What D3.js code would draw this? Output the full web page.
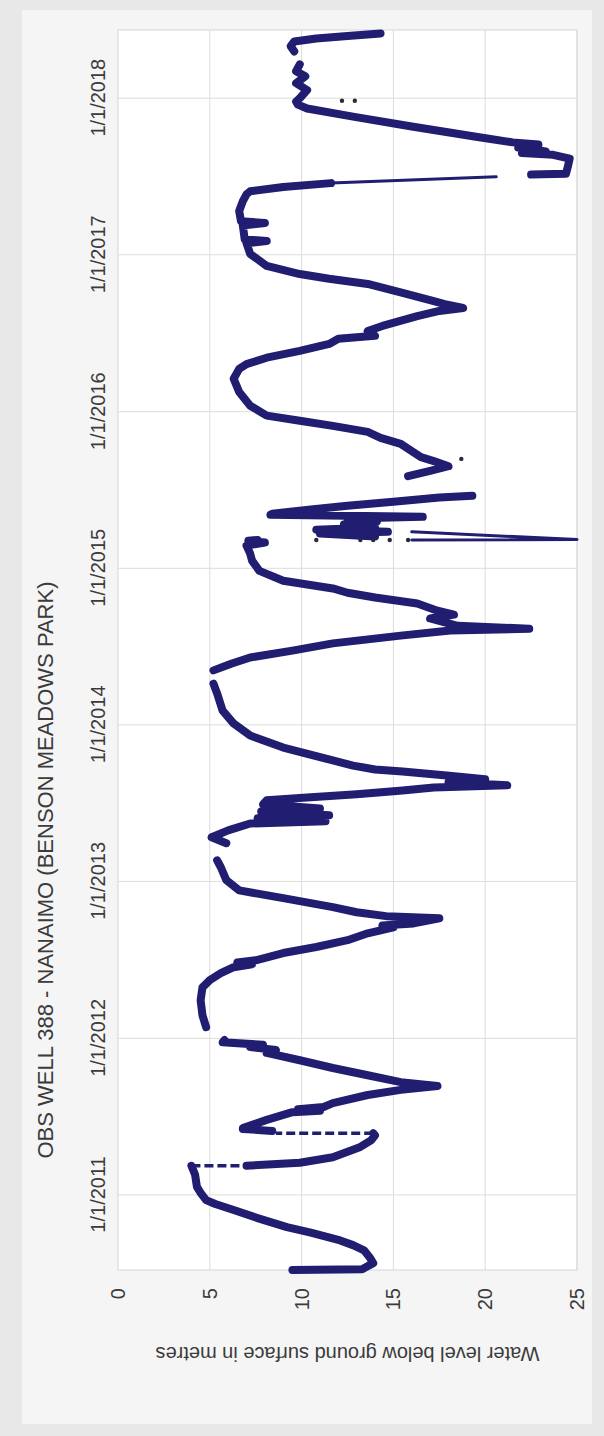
<!DOCTYPE html>
<html>
<head>
<meta charset="utf-8">
<script src="https://cdn.jsdelivr.net/npm/d3@7"></script>
<style>
  html, body { margin: 0; padding: 0; background: #e9e9e9; }
  svg { display: block; }
</style>
</head>
<body>
<svg id="chart" width="604" height="1436"></svg>
<script>
// ---- Text ----
const chartTitle = "OBS WELL 388 - NANAIMO (BENSON MEADOWS PARK)";
const depthAxisTitle = "Water level below ground surface in metres";

// ---- Axes ----
const dateRange = ["2010-07-10", "2018-06-09"];
const dateTicks = ["2011-01-01", "2012-01-01", "2013-01-01", "2014-01-01",
                   "2015-01-01", "2016-01-01", "2017-01-01", "2018-01-01"];
const depthRange = [0, 25];
const depthTicks = [0, 5, 10, 15, 20, 25];

// ---- Logger record: [date, metres below ground], split where the record breaks ----
const run2010 = [
  ["2010-07-10", 9.5], ["2010-07-12", 13.3], ["2010-07-26", 13.9], ["2010-08-09", 13.7],
  ["2010-08-25", 13.4], ["2010-09-06", 12.8], ["2010-09-17", 12.1], ["2010-10-05", 10.5],
  ["2010-10-18", 9.2], ["2010-11-08", 7.6], ["2010-11-27", 6.3], ["2010-12-11", 5.3],
  ["2010-12-20", 4.8], ["2011-01-06", 4.5], ["2011-01-20", 4.3], ["2011-02-17", 4.2],
  ["2011-03-10", 4.0]
];
const run2011a = [
  ["2011-03-10", 7.0], ["2011-03-17", 9.9], ["2011-03-30", 11.7], ["2011-04-23", 13.2],
  ["2011-05-09", 13.8], ["2011-05-20", 14.0], ["2011-05-25", 13.9]
];
const run2011b = [
  ["2011-05-30", 8.4], ["2011-06-04", 6.8], ["2011-06-06", 6.8], ["2011-06-25", 8.1],
  ["2011-07-13", 9.5], ["2011-07-16", 11.0], ["2011-07-20", 9.8], ["2011-07-25", 11.2],
  ["2011-08-03", 11.7], ["2011-08-22", 13.6], ["2011-09-03", 15.4], ["2011-09-12", 17.4],
  ["2011-09-21", 15.4], ["2011-10-07", 13.6], ["2011-10-24", 11.7], ["2011-11-11", 9.9],
  ["2011-11-28", 8.1], ["2011-12-05", 8.6], ["2011-12-12", 7.2], ["2011-12-17", 7.9],
  ["2011-12-23", 5.7], ["2011-12-28", 5.8]
];
const run2012 = [
  ["2012-01-27", 4.8], ["2012-02-24", 4.6], ["2012-03-30", 4.5], ["2012-04-29", 4.6],
  ["2012-05-16", 5.0], ["2012-06-01", 5.6], ["2012-06-15", 6.3], ["2012-06-22", 7.3],
  ["2012-06-26", 6.5], ["2012-07-01", 7.5], ["2012-07-18", 9.0], ["2012-08-01", 10.8],
  ["2012-08-17", 12.5], ["2012-09-02", 13.6], ["2012-09-16", 15.0], ["2012-09-20", 14.4],
  ["2012-09-25", 16.1], ["2012-10-07", 17.5], ["2012-10-12", 14.6], ["2012-10-21", 13.0],
  ["2012-11-02", 11.7], ["2012-11-23", 9.0], ["2012-12-11", 6.6], ["2013-01-04", 5.9],
  ["2013-02-03", 5.6], ["2013-02-19", 5.4]
];
const run2013 = [
  ["2013-03-31", 5.9], ["2013-04-14", 5.1], ["2013-04-30", 6.0], ["2013-05-16", 7.2],
  ["2013-05-21", 11.3], ["2013-05-28", 7.6], ["2013-06-04", 11.5], ["2013-06-13", 7.8],
  ["2013-06-20", 11.0], ["2013-06-30", 7.9], ["2013-07-09", 8.1], ["2013-07-16", 10.5],
  ["2013-07-23", 13.0], ["2013-08-01", 15.5], ["2013-08-08", 17.2], ["2013-08-13", 21.2],
  ["2013-08-20", 18.0], ["2013-08-27", 20.0], ["2013-09-05", 17.9], ["2013-09-14", 15.5],
  ["2013-09-19", 14.0], ["2013-09-28", 12.8], ["2013-10-10", 11.7], ["2013-11-09", 9.0],
  ["2013-12-07", 7.2], ["2014-01-04", 6.3], ["2014-02-03", 5.7], ["2014-03-15", 5.4],
  ["2014-04-07", 5.2]
];
const run2014 = [
  ["2014-05-08", 5.2], ["2014-05-24", 6.2], ["2014-06-07", 7.2], ["2014-06-23", 9.5],
  ["2014-07-10", 11.7], ["2014-07-28", 15.4], ["2014-08-09", 18.1], ["2014-08-13", 22.4],
  ["2014-08-20", 18.5], ["2014-09-06", 17.0], ["2014-09-15", 18.3], ["2014-09-24", 17.4],
  ["2014-10-11", 16.3], ["2014-10-25", 14.0], ["2014-11-05", 12.5], ["2014-11-15", 11.7],
  ["2014-12-03", 9.0], ["2014-12-26", 7.7], ["2015-01-19", 7.3], ["2015-02-04", 7.2],
  ["2015-02-23", 7.0], ["2015-03-02", 8.0], ["2015-03-06", 7.1], ["2015-03-08", 7.6]
];
const run2015a = [
  ["2015-03-16", 14.0], ["2015-03-23", 11.0], ["2015-03-27", 14.7], ["2015-04-01", 10.8],
  ["2015-04-06", 14.0], ["2015-04-13", 12.3], ["2015-04-20", 14.1], ["2015-04-27", 12.5],
  ["2015-05-01", 16.6], ["2015-05-06", 8.3], ["2015-05-08", 8.4], ["2015-05-18", 10.5],
  ["2015-05-27", 12.5], ["2015-06-05", 15.0], ["2015-06-15", 17.5], ["2015-06-19", 19.3]
];
const run2015b = [
  ["2015-08-04", 15.8], ["2015-08-16", 17.0], ["2015-08-27", 18.0], ["2015-09-08", 17.2],
  ["2015-09-17", 16.5], ["2015-10-01", 16.0], ["2015-10-18", 15.4], ["2015-11-01", 14.3],
  ["2015-11-15", 13.6], ["2015-11-29", 11.7], ["2015-12-11", 9.9], ["2015-12-23", 8.1],
  ["2016-01-15", 7.2], ["2016-02-16", 6.6], ["2016-03-18", 6.3], ["2016-04-10", 6.6],
  ["2016-04-21", 7.0], ["2016-05-06", 8.1], ["2016-05-22", 9.9], ["2016-06-07", 11.5],
  ["2016-06-19", 12.0], ["2016-06-26", 14.0], ["2016-07-07", 13.6], ["2016-07-19", 14.4],
  ["2016-08-11", 16.3], ["2016-08-23", 17.5], ["2016-08-30", 18.8], ["2016-09-08", 17.8],
  ["2016-09-15", 17.2], ["2016-10-04", 15.5], ["2016-10-25", 13.6], ["2016-11-06", 11.5],
  ["2016-11-17", 9.9], ["2016-12-06", 8.1], ["2017-01-03", 7.2], ["2017-01-28", 7.0],
  ["2017-02-02", 8.1], ["2017-02-06", 6.9], ["2017-03-10", 6.8], ["2017-03-16", 8.0],
  ["2017-03-20", 6.7], ["2017-04-13", 6.6], ["2017-05-06", 6.8], ["2017-05-22", 7.0],
  ["2017-05-29", 7.2], ["2017-06-08", 9.0], ["2017-06-17", 11.6]
];
const run2017 = [
  ["2017-07-07", 22.5], ["2017-07-09", 24.4], ["2017-07-25", 24.5], ["2017-08-13", 24.6],
  ["2017-08-22", 23.7], ["2017-08-26", 22.0], ["2017-08-30", 23.3], ["2017-09-08", 21.8],
  ["2017-09-15", 22.9], ["2017-09-20", 21.5], ["2017-10-03", 19.5], ["2017-10-27", 16.0],
  ["2017-11-19", 12.8], ["2017-12-08", 10.3], ["2017-12-17", 9.8], ["2017-12-24", 9.7],
  ["2018-01-01", 9.9], ["2018-01-20", 10.3], ["2018-02-05", 9.7], ["2018-02-21", 10.2],
  ["2018-03-05", 9.7], ["2018-03-21", 9.9]
];
const run2018 = [
  ["2018-04-20", 9.6], ["2018-05-02", 9.4], ["2018-05-13", 9.6], ["2018-05-20", 10.8],
  ["2018-05-26", 12.5], ["2018-06-01", 14.3]
];
const loggerRuns = [run2010, run2011a, run2011b, run2012, run2013, run2014,
                    run2015a, run2015b, run2017, run2018];

// Readings logged within a single day (drawn as a dotted connector)
const sameDayChanges = [
  ["2011-03-10", 4.0, 7.0],
  ["2011-05-25", 13.9, 8.6]
];
// Short, fast excursions recorded sparsely (drawn thin)
const spike2015 = [["2015-03-08", 16.0], ["2015-03-09", 25.0], ["2015-03-27", 16.0]];
const drop2017 = [["2017-06-17", 11.6], ["2017-07-02", 20.6]];
const thinRuns = [spike2015, drop2017];
// Isolated readings
const strayReadings = [
  ["2015-03-08", 10.8], ["2015-03-08", 13.2], ["2015-03-08", 13.9], ["2015-03-08", 14.8],
  ["2015-03-08", 15.8], ["2015-09-13", 18.7], ["2017-12-26", 12.2], ["2017-12-26", 12.9]
];

// ---- Drawing ----
const W = 1436, H = 604;              // chart frame before it is turned on the page
const parse = d3.timeParse("%Y-%m-%d");
const ink = "#211d70";
const textCol = "#3b3b3b";
const font = "'Liberation Sans', Arial, sans-serif";

const svg = d3.select("#chart");

// page / chart area / plot area backgrounds
svg.append("rect").attr("width", 604).attr("height", 1436).attr("fill", "#e8e8e8");
svg.append("rect").attr("x", 22).attr("y", 10).attr("width", 570).attr("height", 1414)
  .attr("fill", "#f5f5f5");

// the chart is laid out landscape, then turned a quarter turn counter-clockwise
const g = svg.append("g").attr("transform", `translate(0,${W}) rotate(-90)`);

const x = d3.scaleTime().domain(dateRange.map(parse)).range([166, 1406]);
const y = d3.scaleLinear().domain(depthRange).range([118, 577]);

g.append("rect")
  .attr("x", x.range()[0]).attr("y", y.range()[0])
  .attr("width", x.range()[1] - x.range()[0]).attr("height", y.range()[1] - y.range()[0])
  .attr("fill", "#ffffff").attr("stroke", "#d6d6d6").attr("stroke-width", 1);

// gridlines
g.append("g").selectAll("line").data(depthTicks.filter(d => d > 0)).join("line")
  .attr("x1", x.range()[0]).attr("x2", x.range()[1])
  .attr("y1", d => y(d)).attr("y2", d => y(d))
  .attr("stroke", "#dcdcdc").attr("stroke-width", 1);
g.append("g").selectAll("line").data(dateTicks.map(parse)).join("line")
  .attr("x1", d => x(d)).attr("x2", d => x(d))
  .attr("y1", y.range()[0]).attr("y2", y.range()[1])
  .attr("stroke", "#dcdcdc").attr("stroke-width", 1);

// date axis (along the top of the plot, depth axis reversed)
const xAxis = d3.axisTop(x)
  .tickValues(dateTicks.map(parse))
  .tickFormat(d3.timeFormat("%-m/%-d/%Y"))
  .tickSize(0).tickPadding(13);
g.append("g").attr("transform", `translate(0,${y.range()[0]})`).call(xAxis)
  .call(a => a.select(".domain").remove())
  .selectAll("text").attr("font-family", font).attr("font-size", 20).attr("fill", textCol);

// depth axis
const yAxis = d3.axisLeft(y).tickValues(depthTicks).tickSize(0).tickPadding(18);
g.append("g").attr("transform", `translate(${x.range()[0]},0)`).call(yAxis)
  .call(a => a.select(".domain").remove())
  .selectAll("text").attr("font-family", font).attr("font-size", 20).attr("fill", textCol);

// titles
g.append("text")
  .attr("x", 566).attr("y", 53)
  .attr("text-anchor", "middle")
  .attr("font-family", font).attr("font-size", 22).attr("fill", textCol)
  .text(chartTitle);
g.append("text")
  .attr("transform", `translate(89,${(y.range()[0] + y.range()[1]) / 2}) rotate(-90)`)
  .attr("text-anchor", "middle")
  .attr("font-family", font).attr("font-size", 20).attr("fill", textCol)
  .text(depthAxisTitle);

// series
const line = d3.line().x(d => x(parse(d[0]))).y(d => y(d[1]));
const marks = g.append("g");
marks.selectAll("path.run").data(loggerRuns).join("path")
  .attr("class", "run")
  .attr("d", line)
  .attr("fill", "none").attr("stroke", ink).attr("stroke-width", 8)
  .attr("stroke-linejoin", "round").attr("stroke-linecap", "round");
marks.selectAll("path.thin").data(thinRuns).join("path")
  .attr("class", "thin")
  .attr("d", line)
  .attr("fill", "none").attr("stroke", ink).attr("stroke-width", 3)
  .attr("stroke-linejoin", "round").attr("stroke-linecap", "round");
marks.selectAll("line.jump").data(sameDayChanges).join("line")
  .attr("class", "jump")
  .attr("x1", d => x(parse(d[0]))).attr("x2", d => x(parse(d[0])))
  .attr("y1", d => y(d[1])).attr("y2", d => y(d[2]))
  .attr("stroke", ink).attr("stroke-width", 3.5)
  .attr("stroke-dasharray", "9 4");
marks.selectAll("circle").data(strayReadings).join("circle")
  .attr("cx", d => x(parse(d[0]))).attr("cy", d => y(d[1]))
  .attr("r", 2.2).attr("fill", "#2a2a3a");
</script>
</body>
</html>
